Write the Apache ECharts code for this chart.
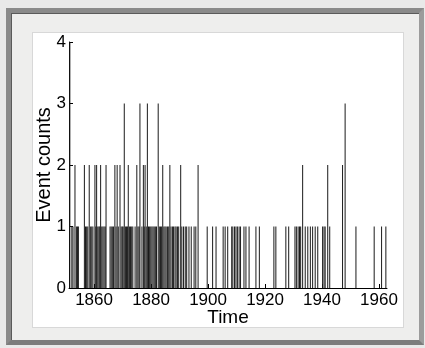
<!DOCTYPE html>
<html>
<head>
<meta charset="utf-8">
<script src="https://cdn.jsdelivr.net/npm/echarts@6/dist/echarts.min.js"></script>
<style>
  html, body { margin: 0; padding: 0; background: #e9e9e9; }
  .frame {
    position: absolute; left: 6px; top: 8px; width: 408px; height: 327px;
    border: 5px solid; border-color: #8a8a8a #9c9c9c #7c7c7c #8a8a8a;
    background: #eeeeed; box-shadow: inset 1px 1px 0 #5a5a5a;
  }
  .panel {
    position: absolute; left: 32px; top: 32px; width: 370px; height: 294px;
    background: #fff; border: 1px solid #d8d8d8;
  }
  #chart { position: absolute; left: 0; top: 0; width: 425px; height: 348px; }
</style>
</head>
<body>
<div class="frame"></div>
<div class="panel"></div>
<div id="chart"></div>
<script>
// event bins (decimal year) and their counts
const eventTimes = [
  1851.5, 1852.2, 1852.6, 1853.3, 1853.8, 1854.2, 1854.5,
  1856.6, 1857.0, 1857.4, 1857.8, 1858.3, 1858.8, 1859.2, 1859.6,
  1860.3, 1860.6, 1860.9, 1861.3, 1861.7, 1862.0, 1862.3, 1862.7, 1863.1, 1863.5, 1863.9, 1864.2,
  1865.6, 1866.0, 1866.4, 1866.8, 1867.3, 1867.7, 1868.1, 1868.5,
  1869.1, 1869.5, 1869.9, 1870.2, 1870.6, 1871.0, 1871.4, 1871.7, 1872.0, 1872.4, 1872.8, 1873.2, 1873.6,
  1874.4, 1875.0, 1875.4, 1875.8, 1876.1, 1876.8, 1877.3, 1877.6, 1877.9, 1878.3, 1878.7,
  1879.1, 1879.5, 1879.9, 1880.3, 1880.7, 1881.1, 1881.5, 1881.9, 1882.5, 1882.9, 1883.3, 1883.7,
  1884.1, 1884.5, 1884.9, 1885.3, 1885.8, 1886.2, 1886.6, 1887.0, 1887.5, 1887.9, 1888.4, 1888.8,
  1889.3, 1889.7, 1890.4, 1890.8, 1891.4, 1892.0, 1892.5, 1893.3, 1894.1, 1895.1, 1895.7, 1896.5,
  1899.7, 1901.6, 1902.8, 1905.3, 1906.0, 1906.9, 1908.3, 1908.7, 1909.3, 1909.8, 1910.3, 1910.9, 1911.4,
  1912.6, 1913.3, 1914.4, 1916.8, 1918.0, 1923.1, 1923.8, 1927.3, 1928.3,
  1930.5, 1931.0, 1931.6, 1932.1, 1932.5, 1933.2, 1934.1, 1935.0, 1935.9, 1936.7, 1937.6, 1938.5,
  1940.2, 1940.7, 1941.1, 1942.0, 1942.7, 1947.2, 1948.1, 1951.9, 1958.3, 1960.9, 1962.4
];
const eventCounts = [
  4, 1, 1, 2, 1, 1, 1,
  2, 1, 1, 1, 2, 1, 1, 1,
  2, 1, 2, 1, 1, 1, 2, 1, 1, 1, 1, 2,
  1, 1, 1, 1, 2, 1, 2, 1,
  2, 1, 1, 1, 3, 1, 1, 1, 2, 1, 1, 1, 1,
  1, 2, 1, 1, 3, 1, 2, 1, 2, 1, 3,
  1, 1, 1, 1, 1, 1, 1, 1, 3, 1, 1, 1,
  2, 1, 1, 1, 1, 1, 2, 1, 1, 1, 1, 1,
  1, 1, 2, 1, 1, 1, 1, 1, 1, 1, 1, 2,
  1, 1, 1, 1, 1, 1, 1, 1, 1, 1, 1, 1, 1,
  1, 1, 1, 1, 1, 1, 1, 1, 1,
  1, 1, 1, 1, 1, 2, 1, 1, 1, 1, 1, 1,
  1, 1, 1, 2, 1, 2, 3, 1, 1, 1, 1
];
const xTicks = [1860, 1880, 1900, 1920, 1940, 1960];
const yTicks = [0, 1, 2, 3, 4];

const font = '"Liberation Sans", Arial, sans-serif';
const chart = echarts.init(document.getElementById('chart'));

chart.setOption({
  animation: false,
  grid: { left: 69, right: 38, top: 42, bottom: 60 },
  xAxis: {
    type: 'value',
    min: 1851.2,
    max: 1962.8,
    name: 'Time',
    nameLocation: 'middle',
    nameMoveOverlap: false,
    nameGap: 20,
    nameTextStyle: { color: '#000', fontSize: 19, fontFamily: font },
    splitLine: { show: false },
    axisLine: { lineStyle: { color: '#000', width: 1 } },
    axisTick: { inside: true, length: 4, customValues: xTicks, lineStyle: { color: '#000' } },
    axisLabel: {
      customValues: xTicks, margin: 4, color: '#000', fontSize: 17, fontFamily: font,
      formatter: v => String(v)
    }
  },
  yAxis: {
    type: 'value',
    min: yTicks[0],
    max: yTicks[yTicks.length - 1],
    interval: 1,
    name: 'Event counts',
    nameLocation: 'middle',
    nameMoveOverlap: false,
    nameGap: 15,
    nameTextStyle: { color: '#000', fontSize: 20, fontFamily: font },
    splitLine: { show: false },
    axisLine: { show: true, lineStyle: { color: '#000', width: 1 } },
    axisTick: { show: true, inside: true, length: 4, lineStyle: { color: '#000' } },
    axisLabel: { margin: 3, color: '#000', fontSize: 17, fontFamily: font }
  },
  series: [{
    type: 'custom',
    data: eventTimes.map((t, i) => [t, eventCounts[i]]),
    renderItem: function (params, api) {
      const top = api.coord([api.value(0), api.value(1)]);
      const base = api.coord([api.value(0), 0]);
      return {
        type: 'line',
        shape: { x1: top[0], y1: top[1], x2: base[0], y2: base[1] },
        style: { stroke: '#1a1a1a', lineWidth: 1 }
      };
    }
  }]
});
</script>
</body>
</html>
